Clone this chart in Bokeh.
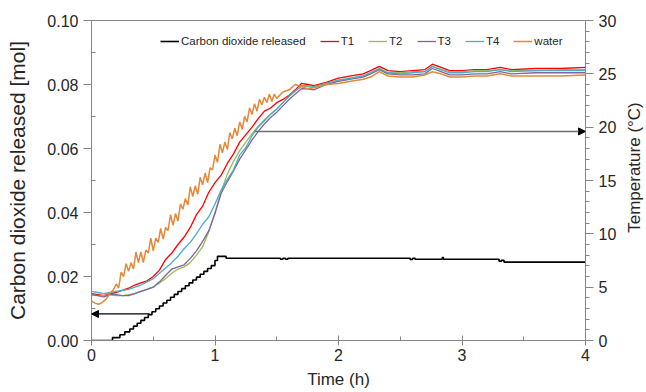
import math
from bokeh.plotting import figure
from bokeh.models import Range1d, LinearAxis, FixedTicker, NumeralTickFormatter, Arrow, NormalHead, Label
from bokeh.embed import file_html
from bokeh.resources import INLINE

# ---------------- data ----------------
# CO2 released (mol), step series
co2_t = [0.00, 0.17, 0.23, 0.27, 0.31, 0.34, 0.37, 0.40, 0.43, 0.46,
         0.49, 0.52, 0.55, 0.58, 0.61, 0.64, 0.67, 0.70, 0.73, 0.76,
         0.79, 0.82, 0.85, 0.88, 0.91, 0.94, 0.97, 1.00, 1.02, 1.09,
         1.53, 1.55, 1.57, 1.59, 2.58, 2.60, 2.62, 2.84, 2.85, 3.30,
         3.32, 3.34, 4.00]
co2_mol = [0.0000, 0.0009, 0.0018, 0.0027, 0.0036, 0.0045, 0.0054, 0.0063, 0.0072, 0.0081,
           0.0090, 0.0099, 0.0108, 0.0117, 0.0126, 0.0135, 0.0144, 0.0153, 0.0162, 0.0171,
           0.0180, 0.0189, 0.0198, 0.0207, 0.0216, 0.0225, 0.0234, 0.0250, 0.0263, 0.0257,
           0.0254, 0.0257, 0.0254, 0.0257, 0.0253, 0.0257, 0.0254, 0.0259, 0.0254, 0.0248,
           0.0251, 0.0245, 0.0245]

# Temperature sensors T1..T4 (deg C)
t_sensor = [0.00, 0.05, 0.10, 0.15, 0.20, 0.25, 0.30, 0.35, 0.40, 0.45,
            0.50, 0.55, 0.60, 0.65, 0.70, 0.75, 0.80, 0.85, 0.90, 0.95,
            1.00, 1.05, 1.10, 1.15, 1.20, 1.25, 1.30, 1.35, 1.40, 1.45,
            1.50, 1.55, 1.60, 1.65, 1.70, 1.75, 1.80,
            1.90, 2.00, 2.10, 2.20, 2.26, 2.33, 2.40, 2.50, 2.60, 2.70,
            2.76, 2.83, 2.90, 3.00, 3.10, 3.20, 3.31, 3.40, 3.60, 3.80, 4.00]
T1 = [4.4, 4.3, 4.2, 4.4, 4.5, 4.7, 4.9, 5.2, 5.4, 5.6,
      6.0, 6.6, 7.6, 8.2, 9.0, 9.7, 10.6, 11.8, 12.6, 13.9,
      14.8, 15.5, 16.6, 17.5, 18.6, 19.3, 20.0, 20.8, 21.5, 21.8,
      22.3, 22.6, 23.0, 23.5, 24.1, 24.0, 23.9,
      24.2, 24.6, 24.8, 25.0, 25.3, 25.7, 25.3, 25.2, 25.3, 25.4,
      25.9, 25.6, 25.3, 25.3, 25.4, 25.4, 25.6, 25.4, 25.5, 25.5, 25.6]
T2 = [4.3, 4.2, 4.2, 4.3, 4.2, 4.2, 4.3, 4.4, 4.6, 4.8,
      5.0, 5.4, 5.8, 6.3, 6.7, 6.9, 7.3, 8.0, 8.8, 10.2,
      12.0, 14.0, 15.6, 16.8, 17.8, 18.6, 19.4, 20.1, 20.7, 21.2,
      21.7, 22.3, 22.9, 23.4, 23.8, 23.8, 23.7,
      24.1, 24.4, 24.6, 24.8, 25.1, 25.5, 25.1, 25.1, 25.2, 25.2,
      25.7, 25.4, 25.2, 25.2, 25.3, 25.3, 25.4, 25.3, 25.3, 25.4, 25.4]
T3 = [4.3, 4.2, 4.1, 4.3, 4.3, 4.2, 4.2, 4.4, 4.6, 4.8,
      5.0, 5.5, 6.1, 6.7, 6.9, 7.1, 7.7, 8.4, 9.3, 10.3,
      11.9, 13.8, 14.9, 15.9, 17.0, 17.9, 18.8, 19.6, 20.3, 20.9,
      21.4, 22.0, 22.6, 23.1, 23.6, 23.6, 23.5,
      24.0, 24.3, 24.5, 24.7, 25.0, 25.4, 25.0, 24.9, 24.9, 25.0,
      25.5, 25.2, 24.9, 24.9, 25.0, 25.0, 25.2, 25.0, 25.1, 25.1, 25.1]
T4 = [4.6, 4.5, 4.4, 4.5, 4.6, 4.7, 4.8, 5.0, 5.2, 5.5,
      5.8, 6.3, 6.8, 7.3, 7.9, 8.6, 9.2, 10.0, 10.9, 11.6,
      12.8, 14.1, 15.1, 16.0, 17.4, 18.1, 19.2, 20.0, 20.6, 21.2,
      21.7, 22.3, 22.9, 23.4, 23.9, 23.9, 23.8,
      24.1, 24.4, 24.6, 24.8, 25.1, 25.5, 25.1, 25.0, 25.1, 25.2,
      25.7, 25.4, 25.1, 25.1, 25.2, 25.2, 25.4, 25.2, 25.3, 25.3, 25.3]

# Water temperature (deg C)
t_water = [0.00, 0.03, 0.06, 0.09, 0.12, 0.15, 0.18,
           0.20, 0.22, 0.24, 0.26, 0.28, 0.30, 0.32, 0.34, 0.36, 0.38,
           0.40, 0.42, 0.44, 0.46, 0.48, 0.50, 0.52, 0.54, 0.56, 0.58,
           0.60, 0.62, 0.64, 0.66, 0.68, 0.70, 0.72, 0.74, 0.76, 0.78,
           0.80, 0.82, 0.84, 0.86, 0.88, 0.90, 0.92, 0.94, 0.96, 0.98,
           1.00, 1.02, 1.04, 1.06, 1.08, 1.10, 1.12, 1.14, 1.16, 1.18,
           1.20, 1.22, 1.24, 1.26, 1.28, 1.30, 1.32, 1.34, 1.36, 1.38,
           1.40, 1.42, 1.44, 1.46, 1.48, 1.50,
           1.55, 1.60, 1.65, 1.70, 1.75, 1.80,
           1.90, 2.00, 2.10, 2.20, 2.26, 2.33, 2.40, 2.50, 2.60, 2.70,
           2.76, 2.83, 2.90, 3.00, 3.10, 3.20, 3.31, 3.40, 3.60, 3.80, 4.00]
water = [3.7, 3.5, 3.4, 3.6, 3.9, 4.4, 4.8,
         5.3, 4.9, 6.4, 6.0, 7.2, 6.5, 7.3, 6.7, 8.3, 7.3,
         8.3, 7.3, 8.5, 8.2, 9.6, 8.4, 9.6, 9.2, 10.5, 9.5,
         10.6, 10.3, 11.8, 10.8, 11.9, 11.2, 12.8, 12.3, 13.3, 12.7,
         14.4, 13.5, 14.5, 13.7, 15.3, 14.6, 15.7, 14.8, 16.2, 16.0,
         17.4, 16.7, 18.4, 17.6, 18.6, 17.9, 19.5, 18.9, 19.9, 19.2,
         20.5, 19.8, 21.0, 20.5, 21.8, 21.2, 22.2, 21.5, 22.6, 22.1,
         22.8, 22.3, 23.1, 22.4, 23.1, 22.7,
         23.3, 23.5, 24.0, 23.8, 23.6, 23.7,
         24.0, 24.1, 24.3, 24.5, 24.7, 25.2, 24.8, 24.7, 24.7, 24.9,
         25.2, 25.0, 24.7, 24.7, 24.8, 24.8, 25.0, 24.8, 24.8, 24.8, 24.9]

# annotation arrows
arrow_co2 = {"t0": 0.47, "t1": 0.0, "y": 0.0083}
arrow_temp = {"t0": 1.32, "t1": 4.0, "y": 19.6}

x_ticks = [0, 1, 2, 3, 4]
x_minor = [0.5, 1.5, 2.5, 3.5]
y_ticks = [0.0, 0.02, 0.04, 0.06, 0.08, 0.10]
y_minor = [0.01, 0.03, 0.05, 0.07, 0.09]
t_ticks = [0, 5, 10, 15, 20, 25, 30]
t_minor = [1, 2, 3, 4, 6, 7, 8, 9, 11, 12, 13, 14, 16, 17, 18, 19, 21, 22, 23, 24, 26, 27, 28, 29]

# ---------------- figure ----------------
FONT = "Liberation Sans"
AX = "#868686"
TXT = "#262626"

p = figure(frame_width=494, frame_height=320, output_backend="svg", toolbar_location=None,
           x_range=Range1d(0, 4), y_range=Range1d(0, 0.10),
           min_border_left=91, min_border_right=61, min_border_top=20, min_border_bottom=52)
p.extra_y_ranges = {"temp": Range1d(0, 30)}
p.xgrid.visible = False
p.ygrid.visible = False
p.outline_line_color = AX
p.outline_line_width = 1
p.background_fill_color = "white"
p.border_fill_color = "white"

def style(ax):
    ax.major_label_text_font = FONT
    ax.major_label_text_font_size = "16px"
    ax.major_label_text_color = TXT
    ax.axis_line_color = AX
    ax.major_tick_line_color = AX
    ax.minor_tick_line_color = AX

def title(ax, text, size, standoff):
    ax.axis_label = text
    ax.axis_label_text_font = FONT
    ax.axis_label_text_font_size = size
    ax.axis_label_text_font_style = "normal"
    ax.axis_label_text_color = TXT
    ax.axis_label_standoff = standoff

xa = p.xaxis[0]
xa.ticker = FixedTicker(ticks=x_ticks, minor_ticks=x_minor)
style(xa)
title(xa, "Time (h)", "17px", 6)
xa.major_tick_in = 5
xa.major_tick_out = 5
xa.minor_tick_in = 4
xa.minor_tick_out = 0
xa.major_label_standoff = 3

ya = p.yaxis[0]
ya.ticker = FixedTicker(ticks=y_ticks, minor_ticks=y_minor)
ya.formatter = NumeralTickFormatter(format="0.00")
style(ya)
title(ya, "Carbon dioxide released [mol]", "21px", 15)
ya.major_tick_in = 0
ya.major_tick_out = 8
ya.minor_tick_in = 4
ya.minor_tick_out = 0
ya.major_label_standoff = 5

ra = LinearAxis(y_range_name="temp")
ra.ticker = FixedTicker(ticks=t_ticks, minor_ticks=t_minor)
style(ra)
ra.major_tick_in = 0
ra.major_tick_out = 8
ra.minor_tick_in = 0
ra.minor_tick_out = 4
ra.major_label_standoff = 5
p.add_layout(ra, "right")

# right-hand title reading bottom-to-top, placed in the right side panel
p.add_layout(Label(text="Temperature (°C)", x=15, y=173, x_units="screen", y_units="screen",
                   angle=math.pi / 2, text_align="center", text_baseline="middle",
                   text_font=FONT, text_font_size="17px", text_color=TXT), "right")

# ---------------- glyphs ----------------
p.step(co2_t, co2_mol, mode="after", line_color="black", line_width=1.6,
       legend_label="Carbon dioxide released")
p.line(t_sensor, T1, y_range_name="temp", line_color="#FF0000", line_width=1.3, legend_label="T1")
p.line(t_sensor, T2, y_range_name="temp", line_color="#9BBB59", line_width=1.3, legend_label="T2")
p.line(t_sensor, T3, y_range_name="temp", line_color="#8064A2", line_width=1.3, legend_label="T3")
p.line(t_sensor, T4, y_range_name="temp", line_color="#4BACC6", line_width=1.3, legend_label="T4")
p.line(t_water, water, y_range_name="temp", line_color="#E3893A", line_width=1.5, legend_label="water")

p.add_layout(Arrow(end=NormalHead(size=7, fill_color="black", line_color="black"),
                   x_start=arrow_co2["t0"], y_start=arrow_co2["y"],
                   x_end=arrow_co2["t1"], y_end=arrow_co2["y"],
                   line_color="black", line_width=1.2))
p.add_layout(Arrow(end=NormalHead(size=7, fill_color="black", line_color="black"),
                   x_start=arrow_temp["t0"], y_start=arrow_temp["y"],
                   x_end=arrow_temp["t1"], y_end=arrow_temp["y"],
                   y_range_name="temp", line_color="#6E6E6E", line_width=1.5))

# ---------------- legend ----------------
lg = p.legend[0]
lg.orientation = "horizontal"
lg.location = (69, 293)
lg.label_text_font = FONT
lg.label_text_font_size = "11.5px"
lg.label_text_color = TXT
lg.glyph_width = 19
lg.glyph_height = 12
lg.label_height = 12
lg.label_width = 0
lg.label_standoff = 2
lg.spacing = 14
lg.padding = 0
lg.margin = 0
lg.border_line_alpha = 0
lg.background_fill_alpha = 0

open("out.html", "w").write(file_html(p, INLINE))
